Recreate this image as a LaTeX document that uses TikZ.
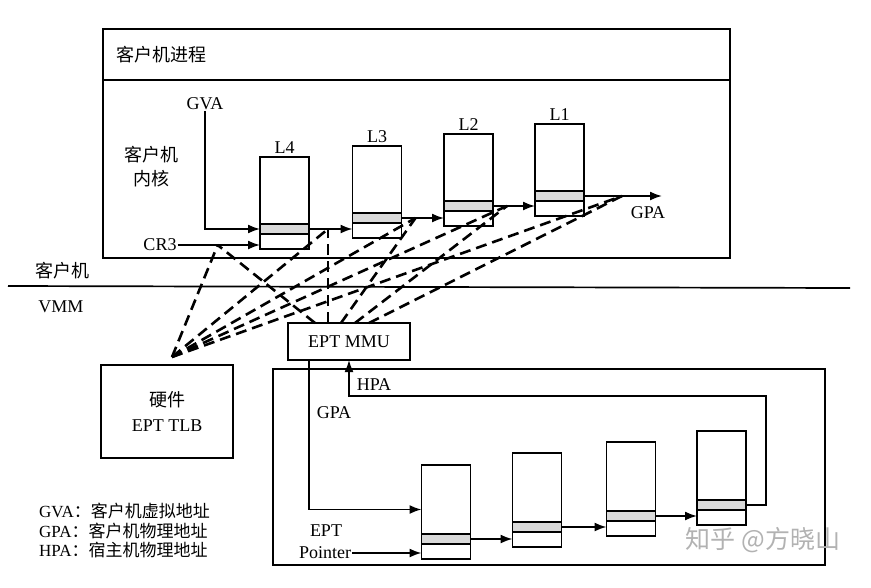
\documentclass[tikz,border=0pt]{standalone}
\usepackage{fontspec}
\setmainfont{Liberation Serif}
\newfontfamily\cjk{Noto Sans CJK SC}
\usetikzlibrary{arrows.meta,positioning}

\begin{document}
\begin{tikzpicture}[x=1pt, y=-1pt, font=\fontsize{18}{21}\selectfont]
    % Define styles
    \tikzstyle{frame}=[rectangle,draw=black,line width=1.9pt,inner sep=0pt,outer sep=0pt]
    \tikzstyle{slot}=[frame,minimum width=49pt]
    \tikzstyle{entry}=[slot,fill=black!15,minimum height=10pt]
    \tikzstyle{cell}=[slot,minimum height=15pt]
    \tikzstyle{line}=[draw,line width=1.7pt,-{Latex[length=12pt,width=9pt]}]
    \tikzstyle{walk}=[draw,line width=2.6pt,dash pattern=on 11pt off 6pt]
    \tikzstyle{txt}=[inner sep=1pt]

    \useasboundingbox (0,0) rectangle (871,587);

    % Guest frame
    \node [frame, minimum width=627pt, minimum height=51pt] (proc) at (416.5,54.5) {};
    \node [frame, minimum width=627pt, minimum height=178pt, below=0pt of proc] (kernel) {};
    \node [txt, anchor=west] at ([xshift=12pt]proc.west) {\cjk 客户机进程};
    \node [txt, align=center] at (151,167) {{\cjk 客户机}\\[3pt]{\cjk 内核}};

    % Guest page tables
    \node [slot, minimum height=67pt] (l4) at (284.5,190.5) {};
    \node [entry, below=0pt of l4] (l4e) {};
    \node [cell, below=0pt of l4e] (l4c) {};
    \node [txt, above=2pt of l4] {L4};

    \node [slot, minimum height=67pt] (l3) at (377,179.5) {};
    \node [entry, below=0pt of l3] (l3e) {};
    \node [cell, below=0pt of l3e] (l3c) {};
    \node [txt, above=2pt of l3] {L3};

    \node [slot, minimum height=67pt] (l2) at (468.5,167.5) {};
    \node [entry, below=0pt of l2] (l2e) {};
    \node [cell, below=0pt of l2e] (l2c) {};
    \node [txt, above=2pt of l2] {L2};

    \node [slot, minimum height=67pt] (l1) at (559.5,157.5) {};
    \node [entry, below=0pt of l1] (l1e) {};
    \node [cell, below=0pt of l1e] (l1c) {};
    \node [txt, above=2pt of l1] {L1};

    % Guest registers
    \node [txt] (gva) at (205,104) {GVA};
    \node [txt] (cr3) at (160,245) {CR3};
    \coordinate (gpaend) at ([xshift=78pt]l1e.east);
    \node [txt] at (648,213) {GPA};

    % Divider
    \coordinate (divl) at (8,286);
    \coordinate (divr) at (850,288);
    \draw [line width=1.7pt] (divl) -- (divr);
    \node [txt] at (62,271) {\cjk 客户机};
    \node [txt] at (61,307) {VMM};

    % VMM side
    \node [frame, minimum width=132pt, minimum height=93pt, align=center] (tlb) at (167,411.5) {{\cjk 硬件}\\[4pt]EPT TLB};
    \node [frame, minimum width=122pt, minimum height=37pt] (mmu) at (349,341.5) {EPT MMU};
    \node [frame, minimum width=552pt, minimum height=196pt] (ept) at (549,467) {};

    % EPT tables
    \node [slot, minimum height=69pt] (e1) at (446,499.5) {};
    \node [entry, below=0pt of e1] (e1e) {};
    \node [cell, below=0pt of e1e] (e1c) {};

    \node [slot, minimum height=69pt] (e2) at (537,487.5) {};
    \node [entry, below=0pt of e2] (e2e) {};
    \node [cell, below=0pt of e2e] (e2c) {};

    \node [slot, minimum height=69pt] (e3) at (631,476.5) {};
    \node [entry, below=0pt of e3] (e3e) {};
    \node [cell, below=0pt of e3e] (e3c) {};

    \node [slot, minimum height=69pt] (e4) at (721.5,465.5) {};
    \node [entry, below=0pt of e4] (e4e) {};
    \node [cell, below=0pt of e4e] (e4c) {};

    \node [txt] at (334,413) {GPA};
    \node [txt] at (374,385) {HPA};
    \node [txt] at (326,531) {EPT};
    \node [txt] (ptr) at (325,553) {Pointer};
    \coordinate (hpaturn) at (766,396);

    % Legend
    \node [txt, anchor=north west, align=left, font=\fontsize{17}{19.5}\selectfont] (legend) at (38,502)
        {GVA{\cjk ：客户机虚拟地址}\\GPA{\cjk ：客户机物理地址}\\HPA{\cjk ：宿主机物理地址}};

    % Watermark
    \node [txt, text=black!30, font=\fontsize{25}{28}\selectfont] (mark) at (763,540) {\cjk 知乎 @方晓山};

    % Define connections
    \path [line] (gva.south) |- (l4e.west);
    \path [line] (cr3.east) -- (cr3.east -| l4c.west);
    \path [line] (l4e.east) -- (l4e.east -| l3c.west);
    \path [line] (l3e.east) -- (l3e.east -| l2c.west);
    \path [line] (l2e.east) -- (l2e.east -| l1c.west);
    \path [line] (l1e.east) -- (gpaend);
    \path [line] ([xshift=-40pt]mmu.south) |- ([yshift=-10pt]e1.west);
    \path [line] (ptr.east) -- (ptr.east -| e1c.west);
    \path [line] (e1e.east) -- (e1e.east -| e2c.west);
    \path [line] (e2e.east) -- (e2e.east -| e3c.west);
    \path [line] (e3e.east) -- (e3e.east -| e4c.west);
    \path [line] (e4e.east) -| (hpaturn) -| (mmu.south);

    % Dashed walks
    \coordinate (tlbtop) at ([xshift=5pt,yshift=8pt]tlb.north);
    \coordinate (p0) at ([xshift=40pt]cr3.east);
    \coordinate (p1) at ([xshift=19pt]l4e.east);
    \coordinate (p2) at ([xshift=14pt]l3e.east);
    \coordinate (p3) at ([xshift=14pt]l2e.east);
    \coordinate (p4) at ([xshift=38pt]l1e.east);
    \path [walk] (tlbtop) -- (p0);
    \path [walk] (tlbtop) -- (p1);
    \path [walk] (tlbtop) -- (p2);
    \path [walk] (tlbtop) -- (p3);
    \path [walk] (tlbtop) -- (p4);
    \path [walk] ([xshift=-34pt]mmu.north) -- (p0);
    \path [walk] ([xshift=-21pt]mmu.north) -- (p1);
    \path [walk] ([xshift=-8pt]mmu.north) -- (p2);
    \path [walk] ([xshift=6pt]mmu.north) -- (p3);
    \path [walk] ([xshift=20pt]mmu.north) -- (p4);
\end{tikzpicture}
\end{document}
